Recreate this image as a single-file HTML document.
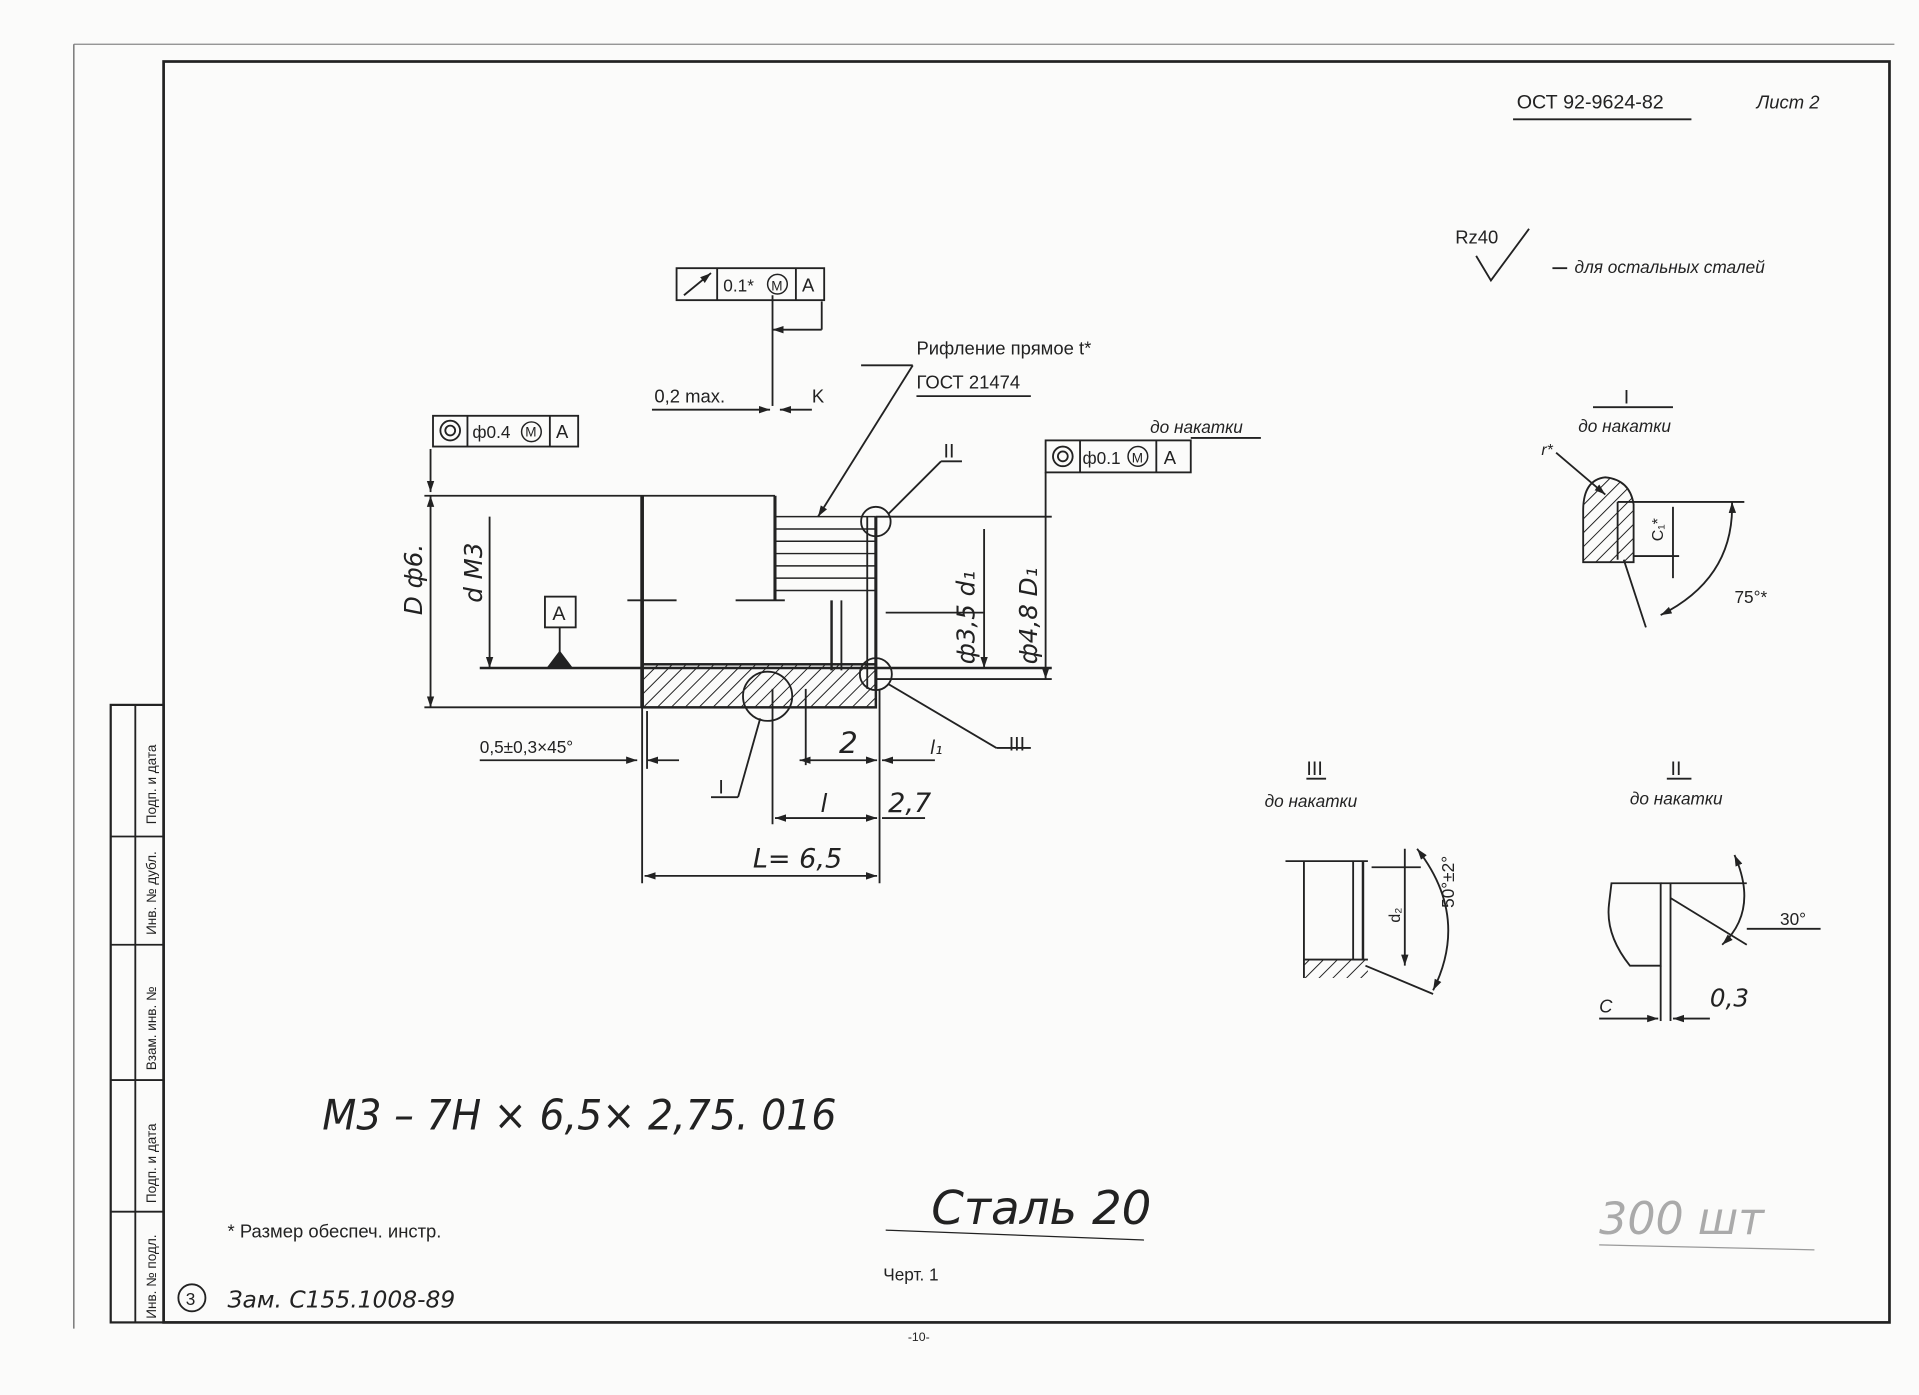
<!DOCTYPE html>
<html><head><meta charset="utf-8"><style>
html,body{margin:0;padding:0;background:#fbfbfa;}
svg{display:block;}
text{font-family:"Liberation Sans","DejaVu Sans",sans-serif;fill:#222;}
.h{font-family:"DejaVu Sans","Liberation Sans",sans-serif;font-style:italic;}
</style></head><body>
<svg width="1919" height="1395" viewBox="0 0 1560 1134" preserveAspectRatio="none" xmlns="http://www.w3.org/2000/svg">
<defs>
<pattern id="hat" width="8" height="8" patternUnits="userSpaceOnUse" patternTransform="rotate(45)">
<line x1="0" y1="0" x2="0" y2="8" stroke="#222" stroke-width="1.6"/></pattern>
<marker id="ar" markerWidth="10" markerHeight="8" refX="9" refY="4" orient="auto-start-reverse" markerUnits="userSpaceOnUse">
<path d="M0,1 L9,4 L0,7 z" fill="#222"/></marker>
</defs>
<g stroke="#222" fill="none" stroke-width="1.5">
<line x1="60" y1="36" x2="1540" y2="36" stroke="#888" stroke-width="1"/>
<line x1="60" y1="36" x2="60" y2="1080" stroke="#777" stroke-width="1.2"/>
<rect x="133" y="50" width="1403" height="1025" stroke-width="2.2"/>
<rect x="90" y="573" width="43" height="502" stroke-width="1.8"/>
<line x1="110" y1="573" x2="110" y2="1075"/>
<line x1="90" y1="680" x2="133" y2="680"/>
<line x1="90" y1="768" x2="133" y2="768"/>
<line x1="90" y1="878" x2="133" y2="878"/>
<line x1="90" y1="985" x2="133" y2="985"/>
<line x1="1230" y1="97" x2="1375" y2="97"/>
<polyline points="1200,208 1212,228 1243,186"/>
<line x1="1262" y1="218" x2="1274" y2="218"/>
<line x1="345" y1="403" x2="630" y2="403"/>
<line x1="522" y1="403" x2="522" y2="575" stroke-width="3"/>
<line x1="630" y1="403" x2="630" y2="488" stroke-width="2.5"/>
<line x1="598" y1="488" x2="638" y2="488"/>
<line x1="510" y1="488" x2="550" y2="488"/>
<g stroke-width="1.2">
<line x1="630" y1="420" x2="712" y2="420"/><line x1="630" y1="430" x2="712" y2="430"/>
<line x1="630" y1="440" x2="712" y2="440"/><line x1="630" y1="450" x2="712" y2="450"/>
<line x1="630" y1="460" x2="712" y2="460"/><line x1="630" y1="470" x2="712" y2="470"/>
<line x1="630" y1="480" x2="712" y2="480"/>
</g>
<line x1="712" y1="420" x2="712" y2="560" stroke-width="2.5"/>
<line x1="705" y1="420" x2="705" y2="560"/>
<line x1="676" y1="488" x2="676" y2="545" stroke-width="2"/>
<line x1="684" y1="488" x2="684" y2="545"/>
<rect x="522" y="540" width="190" height="35" fill="url(#hat)" stroke-width="2"/>
<line x1="390" y1="543" x2="855" y2="543" stroke-width="2"/>
<line x1="345" y1="575" x2="522" y2="575"/>
<line x1="712" y1="420" x2="855" y2="420"/>
<line x1="712" y1="552" x2="855" y2="552"/>
<line x1="720" y1="498" x2="800" y2="498"/>
<line x1="350" y1="403" x2="350" y2="575" marker-start="url(#ar)" marker-end="url(#ar)"/>
<line x1="350" y1="365" x2="350" y2="400" marker-end="url(#ar)"/>
<line x1="398" y1="420" x2="398" y2="543" marker-end="url(#ar)"/>
<line x1="800" y1="430" x2="800" y2="543" marker-end="url(#ar)"/>
<line x1="850" y1="384" x2="850" y2="552" marker-end="url(#ar)"/>
<line x1="628" y1="240" x2="628" y2="330"/>
<line x1="628" y1="268" x2="668" y2="268" marker-start="url(#ar)"/>
<line x1="668" y1="245" x2="668" y2="268"/>
<line x1="530" y1="333" x2="626" y2="333" marker-end="url(#ar)"/>
<line x1="660" y1="333" x2="634" y2="333" marker-end="url(#ar)"/>
<line x1="742" y1="297" x2="700" y2="297"/>
<line x1="742" y1="297" x2="665" y2="420" marker-end="url(#ar)"/>
<line x1="745" y1="322" x2="838" y2="322"/>
<line x1="968" y1="356" x2="1025" y2="356"/>
<circle cx="712" cy="424" r="12"/>
<line x1="722" y1="418" x2="765" y2="375"/><line x1="765" y1="375" x2="782" y2="375"/>
<circle cx="712" cy="548" r="13"/>
<line x1="722" y1="556" x2="810" y2="608"/><line x1="810" y1="608" x2="838" y2="608"/>
<circle cx="624" cy="566" r="20"/>
<line x1="618" y1="584" x2="600" y2="648"/><line x1="578" y1="648" x2="600" y2="648"/>
<line x1="390" y1="618" x2="518" y2="618" marker-end="url(#ar)"/>
<line x1="552" y1="618" x2="526" y2="618" marker-end="url(#ar)"/>
<line x1="526" y1="578" x2="526" y2="625"/>
<line x1="522" y1="575" x2="522" y2="718"/>
<line x1="628" y1="560" x2="628" y2="670"/>
<line x1="655" y1="560" x2="655" y2="622"/>
<line x1="715" y1="560" x2="715" y2="718"/>
<line x1="650" y1="618" x2="713" y2="618" marker-start="url(#ar)" marker-end="url(#ar)"/>
<line x1="760" y1="618" x2="717" y2="618" marker-end="url(#ar)"/>
<line x1="630" y1="665" x2="713" y2="665" marker-start="url(#ar)" marker-end="url(#ar)"/>
<line x1="717" y1="665" x2="752" y2="665"/>
<line x1="524" y1="712" x2="713" y2="712" marker-start="url(#ar)" marker-end="url(#ar)"/>
<rect x="443" y="485" width="25" height="25"/>
<line x1="455" y1="510" x2="455" y2="532"/>
<path d="M446,542 L464,542 L455,530 z" fill="#222"/>
<rect x="352" y="338" width="118" height="25"/><line x1="380" y1="338" x2="380" y2="363"/><line x1="447" y1="338" x2="447" y2="363"/>
<circle cx="366" cy="350" r="8"/><circle cx="366" cy="350" r="4"/>
<rect x="550" y="218" width="120" height="26"/><line x1="583" y1="218" x2="583" y2="244"/><line x1="647" y1="218" x2="647" y2="244"/>
<line x1="556" y1="240" x2="578" y2="222" marker-end="url(#ar)"/>
<rect x="850" y="358" width="118" height="26"/><line x1="878" y1="358" x2="878" y2="384"/><line x1="940" y1="358" x2="940" y2="384"/>
<circle cx="864" cy="371" r="8"/><circle cx="864" cy="371" r="4"/>
<circle cx="632" cy="231" r="8" stroke-width="1.2"/><circle cx="432" cy="351" r="8" stroke-width="1.2"/><circle cx="925" cy="371" r="8" stroke-width="1.2"/>
<line x1="1295" y1="331" x2="1360" y2="331"/>
<path d="M1287,457 L1287,415 Q1287,390 1305,388 Q1325,390 1328,410 L1328,457 z" fill="url(#hat)"/>
<line x1="1315" y1="408" x2="1418" y2="408"/>
<line x1="1315" y1="408" x2="1315" y2="455"/>
<line x1="1328" y1="452" x2="1365" y2="452"/>
<line x1="1360" y1="412" x2="1360" y2="470"/>
<line x1="1320" y1="455" x2="1338" y2="510"/>
<path d="M1408,408 Q1410,470 1350,500" marker-start="url(#ar)" marker-end="url(#ar)"/>
<line x1="1265" y1="368" x2="1305" y2="402" marker-end="url(#ar)"/>
<line x1="1062" y1="633" x2="1078" y2="633"/>
<line x1="1045" y1="700" x2="1112" y2="700"/>
<line x1="1060" y1="700" x2="1060" y2="795"/>
<line x1="1100" y1="700" x2="1100" y2="780"/>
<line x1="1108" y1="700" x2="1108" y2="780" stroke-width="2"/>
<line x1="1060" y1="780" x2="1112" y2="780"/>
<rect x="1060" y="780" width="52" height="15" fill="url(#hat)" stroke="none"/>
<line x1="1115" y1="705" x2="1155" y2="705"/>
<line x1="1142" y1="690" x2="1142" y2="785" marker-end="url(#ar)"/>
<line x1="1110" y1="785" x2="1165" y2="808"/>
<path d="M1152,690 Q1195,745 1165,805" marker-start="url(#ar)" marker-end="url(#ar)"/>
<line x1="1355" y1="633" x2="1375" y2="633"/>
<path d="M1310,718 L1350,718 L1350,785 L1325,785 Q1305,760 1308,735 z"/>
<line x1="1350" y1="718" x2="1420" y2="718"/>
<line x1="1358" y1="718" x2="1358" y2="830"/>
<line x1="1350" y1="785" x2="1350" y2="830"/>
<line x1="1358" y1="730" x2="1420" y2="768"/>
<path d="M1410,695 Q1430,740 1400,768" marker-start="url(#ar)" marker-end="url(#ar)"/>
<line x1="1420" y1="755" x2="1480" y2="755"/>
<line x1="1300" y1="828" x2="1348" y2="828" marker-end="url(#ar)"/>
<line x1="1390" y1="828" x2="1360" y2="828" marker-end="url(#ar)"/>
<line x1="720" y1="1000" x2="930" y2="1008" stroke-width="1"/>
<line x1="1300" y1="1012" x2="1475" y2="1016" stroke="#999" stroke-width="1"/>
<circle cx="156" cy="1055" r="11"/>
</g>
<text x="1233" y="88" font-size="16">ОСТ 92-9624-82</text>
<text x="1428" y="88" font-size="15" font-style="italic">Лист 2</text>
<text x="1183" y="198" font-size="15">Rz40</text>
<text x="1280" y="222" font-size="14" font-style="italic">для остальных сталей</text>
<text x="745" y="288" font-size="15">Рифление прямое t*</text>
<text x="745" y="316" font-size="15">ГОСТ 21474</text>
<text x="532" y="327" font-size="15">0,2 max.</text>
<text x="660" y="327" font-size="15">K</text>
<text x="935" y="352" font-size="14" font-style="italic">до накатки</text>
<text x="588" y="237" font-size="14">0.1*</text><text x="627" y="236" font-size="11">M</text><text x="652" y="237" font-size="15">A</text>
<text x="384" y="356" font-size="14">ф0.4</text><text x="427" y="355" font-size="11">M</text><text x="452" y="356" font-size="15">A</text>
<text x="880" y="377" font-size="14">ф0.1</text><text x="920" y="376" font-size="11">M</text><text x="946" y="377" font-size="15">A</text>
<text x="449" y="504" font-size="16">A</text>
<text x="767" y="372" font-size="16" font-family="Liberation Serif">II</text>
<text x="820" y="610" font-size="16" font-family="Liberation Serif">III</text>
<text x="584" y="645" font-size="16" font-family="Liberation Serif">I</text>
<text class="h" transform="translate(343,500) rotate(-90)" font-size="20">D ф6.</text>
<text class="h" transform="translate(392,490) rotate(-90)" font-size="20">d M3</text>
<text class="h" transform="translate(792,540) rotate(-90)" font-size="20">ф3,5 d₁</text>
<text class="h" transform="translate(843,540) rotate(-90)" font-size="20">ф4,8 D₁</text>
<text x="390" y="612" font-size="14">0,5±0,3×45°</text>
<text class="h" x="682" y="612" font-size="24">2</text>
<text class="h" x="756" y="613" font-size="15">l₁</text>
<text class="h" x="667" y="660" font-size="20">l</text>
<text class="h" x="722" y="660" font-size="22">2,7</text>
<text class="h" x="612" y="705" font-size="22">L= 6,5</text>
<text x="1320" y="328" font-size="16" font-family="Liberation Serif">I</text>
<text x="1283" y="351" font-size="14" font-style="italic">до накатки</text>
<text x="1253" y="370" font-size="13" font-style="italic">r*</text>
<text transform="translate(1352,440) rotate(-90)" font-size="13">C₁*</text>
<text x="1410" y="490" font-size="14">75°*</text>
<text x="1062" y="630" font-size="16" font-family="Liberation Serif">III</text>
<text x="1028" y="656" font-size="14" font-style="italic">до накатки</text>
<text transform="translate(1138,750) rotate(-90)" font-size="13">d₂</text>
<text transform="translate(1182,738) rotate(-90)" font-size="14">50°±2°</text>
<text x="1358" y="630" font-size="16" font-family="Liberation Serif">II</text>
<text x="1325" y="654" font-size="14" font-style="italic">до накатки</text>
<text x="1447" y="752" font-size="14">30°</text>
<text x="1300" y="823" font-size="15" font-style="italic">C</text>
<text class="h" x="1390" y="818" font-size="20">0,3</text>
<text class="h" x="262" y="918" font-size="34" textLength="418" lengthAdjust="spacingAndGlyphs" fill="#333">M3 – 7H × 6,5× 2,75. 016</text>
<text class="h" x="757" y="995" font-size="38" fill="#333">Сталь 20</text>
<text class="h" x="1300" y="1003" font-size="36" style="fill:#aaa">300 шт</text>
<text x="185" y="1006" font-size="15">*  Размер обеспеч. инстр.</text>
<text x="718" y="1041" font-size="14">Черт. 1</text>
<text x="151" y="1061" font-size="14">3</text>
<text class="h" x="185" y="1063" font-size="19">Зам. С155.1008-89</text>
<text x="738" y="1090" font-size="10">-10-</text>
<text transform="translate(127,670) rotate(-90)" font-size="11">Подп. и дата</text>
<text transform="translate(127,760) rotate(-90)" font-size="11">Инв. № дубл.</text>
<text transform="translate(127,870) rotate(-90)" font-size="11">Взам. инв. №</text>
<text transform="translate(127,978) rotate(-90)" font-size="11">Подп. и дата</text>
<text transform="translate(127,1072) rotate(-90)" font-size="11">Инв. № подл.</text>
</svg>
</body></html>
